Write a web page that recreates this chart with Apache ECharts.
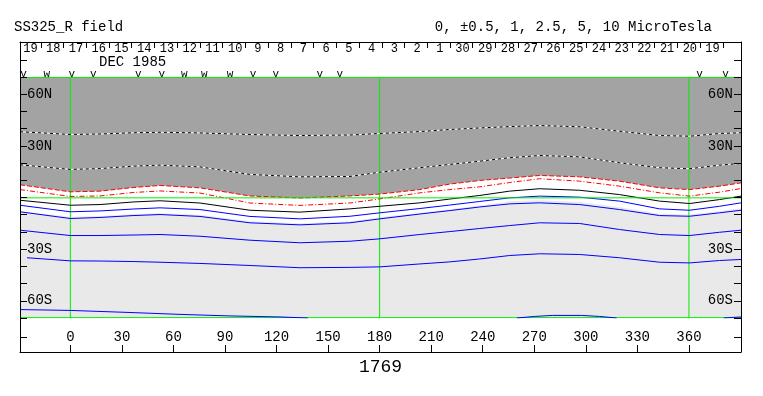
<!DOCTYPE html>
<html>
<head>
<meta charset="utf-8">
<script src="https://cdn.jsdelivr.net/npm/echarts@6/dist/echarts.min.js"></script>
<style>html,body{margin:0;padding:0;background:#fff}#c{width:763px;height:396px}</style>
</head>
<body>
<div id="c"></div>
<script>
// ---------- data ----------
const lonSamples = [-29.3, 0, 17.3, 36.5, 52.2, 75.4, 104.5, 133.6, 162.7, 180.1, 203.4, 220.8, 238.3, 255.7, 273.1, 296.4, 319.6, 342.9, 360.4, 377.8, 390.3];
const lonBlue4   = [-25.2, 0, 17.3, 36.5, 52.2, 75.4, 104.5, 133.6, 162.7, 180.1, 203.4, 220.8, 238.3, 255.7, 273.1, 296.4, 319.6, 342.9, 360.4, 377.8, 390.3];

const dotted1    = [38.2, 36.6, 36.9, 37.6, 37.9, 37.5, 36.6, 36.0, 36.3, 37.2, 38.3, 39.5, 40.4, 41.2, 41.8, 41.1, 38.5, 36.0, 35.6, 37.2, 37.6];
const dotted2    = [19.0, 16.3, 16.8, 18.2, 18.8, 17.8, 13.4, 12.0, 12.2, 14.7, 17.3, 19.2, 21.1, 23.1, 24.4, 23.6, 20.2, 17.3, 16.7, 18.8, 19.8];
const redDash    = [7.4, 3.3, 3.7, 5.8, 7.0, 5.6, 0.9, -0.3, 0.9, 2.0, 4.6, 7.8, 9.9, 11.3, 12.8, 12.0, 9.5, 5.6, 4.6, 6.6, 8.5];
const redDashDot = [4.6, 0.6, 0.9, 2.9, 3.8, 2.6, -3.2, -4.6, -3.2, -0.8, 2.7, 4.6, 6.2, 8.7, 10.9, 9.5, 6.6, 2.7, 0.8, 3.1, 5.2];
const black0     = [-1.6, -4.5, -4.1, -2.6, -1.9, -3.2, -7.4, -8.5, -6.6, -5.1, -3.1, -0.9, 1.2, 3.7, 5.1, 4.2, 1.7, -2.1, -3.5, -1.2, 0.8];
const blue1      = [-4.5, -8.3, -7.8, -6.7, -6.0, -7.0, -11.0, -12.4, -10.9, -8.9, -6.4, -4.4, -2.3, -0.2, 0.8, 0.2, -2.1, -6.6, -7.4, -5.1, -3.1];
const blue2      = [-8.3, -12.2, -11.6, -10.5, -9.9, -11.0, -14.7, -15.9, -14.7, -12.4, -9.6, -7.6, -5.5, -3.7, -3.1, -4.1, -7.0, -10.5, -10.9, -8.9, -7.4];
const blue3      = [-19.0, -22.1, -22.1, -21.8, -21.5, -22.5, -24.8, -26.3, -25.4, -24.0, -21.5, -19.8, -18.0, -16.3, -14.7, -15.1, -18.6, -21.5, -22.1, -20.2, -19.0];
const blue4      = [-35.0, -36.8, -36.9, -37.2, -37.6, -38.3, -39.5, -40.8, -40.6, -40.3, -38.6, -37.4, -35.7, -33.7, -32.7, -33.1, -35.0, -37.6, -38.0, -36.6, -36.0];
const whiteLower = [-8.0, -11.2, -10.7, -9.6, -9.0, -10.0, -13.8, -15.0, -13.8, -11.5, -8.8, -6.8, -4.6, -2.2, -1.6, -2.6, -5.5, -9.4, -9.9, -7.8, -6.2];

const southLon   = [-29.3, 0, 34.7, 63.8, 92.9, 122, 138.2];
const southLat   = [-65.1, -65.6, -66.8, -67.9, -68.8, -69.4, -70];
const bumpLon    = [259.8, 270.2, 280.7, 297.6, 308, 317.9];
const bumpLat    = [-70, -69.1, -68.5, -68.5, -69.1, -70];
const edgeLon    = [380.2, 390.3];
const edgeLat    = [-70, -69.4];

const xTicks     = [0, 30, 60, 90, 120, 150, 180, 210, 240, 270, 300, 330, 360];
const latLabels  = [-60, -30, 30, 60];
const greenLons  = [0, 180, 360];
const greenLats  = [-69.8, 69.8];
const equatorLon = [-29.3, 180, 390.3];
const equatorLat = [-0.2, -0.2, -0.2];
const latRange   = [-70, 70];
const lonRange   = [-29.3, 390.3];

const dayLabels  = ['19','18','17','16','15','14','13','12','11','10','9','8','7','6','5','4','3','2','1','30','29','28','27','26','25','24','23','22','21','20','19'];
const dayLabelStart = -23.15, dayTickStart = -17.19, dayStep = 13.23;
const markLons   = [-27.3, -13.7, 0.8, 13.4, 39.5, 53.2, 66.3, 77.9, 92.9, 106.4, 119.6, 145.2, 156.8, 366.2, 381.3];
const markTypes  = ['v','w','v','v','v','v','w','w','w','v','v','v','v','v','v'];

// ---------- build ----------
const FONT = 'Liberation Mono';
const GREEN = '#00ee00';
const dayLabelLons = dayLabels.map((d, i) => +(dayLabelStart + i * dayStep).toFixed(3));
const dayTickLons = dayLabels.map((d, i) => +(dayTickStart + i * dayStep).toFixed(3));
const pairs = (xs, ys) => xs.map((x, i) => [x, ys[i]]);
const findIdx = (arr, v) => arr.findIndex(a => Math.abs(a - v) < 1e-3);

function lineSeries(name, lons, lats, color, type, z, extra) {
  return Object.assign({
    name, type: 'line', xAxisIndex: 0, yAxisIndex: 0,
    data: pairs(lons, lats), symbol: 'none', showSymbol: false, silent: true, z: z,
    lineStyle: { color: color, width: 1, type: type, opacity: 1 }
  }, extra || {});
}

const greenSeries = []
  .concat(greenLons.map(v => lineSeries('greenV_' + v, [v, v], latRange, GREEN, 'solid', 3)))
  .concat(greenLats.map((v, i) => lineSeries('greenH_' + i, lonRange, [v, v], GREEN, 'solid', 5)));

const chart = echarts.init(document.getElementById('c'), null, { renderer: 'canvas' });
chart.setOption({
  animation: false,
  backgroundColor: '#fff',
  title: [
    { text: 'SS325_R field', left: 14, top: 20, padding: 0,
      textStyle: { fontFamily: FONT, fontSize: 14, fontWeight: 'normal', color: '#000' } },
    { text: '0, ±0.5, 1, 2.5, 5, 10 MicroTesla', right: 51, top: 20, padding: 0,
      textStyle: { fontFamily: FONT, fontSize: 14, fontWeight: 'normal', color: '#000' } },
    { text: 'DEC 1985', left: 99, top: 55, padding: 0,
      textStyle: { fontFamily: FONT, fontSize: 14, fontWeight: 'normal', color: '#000' } }
  ],
  grid: [
    { left: 20, top: 77, width: 721, height: 241, show: true, backgroundColor: '#e9e9e9', borderWidth: 0 },
    { left: 20, top: 42, width: 721, height: 310, show: false }
  ],
  xAxis: [
    { gridIndex: 0, type: 'value', min: lonRange[0], max: lonRange[1], position: 'bottom', offset: 34,
      axisLine: { show: false, onZero: false },
      axisTick: { show: true, inside: true, length: 7, customValues: xTicks, lineStyle: { color: '#000' } },
      axisLabel: { show: true, inside: true, margin: 8, customValues: xTicks, color: '#000', fontFamily: FONT, fontSize: 14 },
      splitLine: { show: false },
      name: '1769', nameLocation: 'middle', nameGap: 6,
      nameTextStyle: { fontFamily: FONT, fontSize: 18, color: '#000' } },
    { gridIndex: 0, type: 'value', min: lonRange[0], max: lonRange[1], position: 'top', offset: 35,
      axisLine: { show: false, onZero: false },
      axisTick: { show: true, inside: true, length: 6, customValues: dayTickLons, lineStyle: { color: '#000' } },
      axisLabel: { show: true, inside: true, margin: 1, customValues: dayLabelLons, color: '#000', fontFamily: FONT, fontSize: 12,
        formatter: v => { const i = findIdx(dayLabelLons, v); return i >= 0 ? dayLabels[i] : ''; } },
      splitLine: { show: false } },
    { gridIndex: 0, type: 'value', min: lonRange[0], max: lonRange[1], position: 'top', offset: 0,
      axisLine: { show: false, onZero: false }, axisTick: { show: false },
      axisLabel: { show: true, margin: 3, verticalAlign: 'middle', customValues: markLons, color: '#000', fontFamily: FONT, fontSize: 11,
        formatter: v => { const i = findIdx(markLons, v); return i >= 0 ? markTypes[i] : ''; } },
      splitLine: { show: false } },
    { gridIndex: 1, type: 'value', min: 0, max: 1, position: 'bottom',
      axisLine: { show: true, onZero: false, lineStyle: { color: '#000' } },
      axisTick: { show: false }, axisLabel: { show: false }, splitLine: { show: false } },
    { gridIndex: 1, type: 'value', min: 0, max: 1, position: 'top',
      axisLine: { show: true, onZero: false, lineStyle: { color: '#000' } },
      axisTick: { show: false }, axisLabel: { show: false }, splitLine: { show: false } }
  ],
  yAxis: [
    { gridIndex: 0, type: 'value', min: latRange[0], max: latRange[1], interval: 10, position: 'left', z: 10,
      axisLine: { show: false, onZero: false },
      axisTick: { show: true, inside: true, length: 7, lineStyle: { color: '#000' } },
      axisLabel: { show: true, inside: true, margin: 7, customValues: latLabels, color: '#000', fontFamily: FONT, fontSize: 14,
        formatter: v => v > 0 ? v + 'N' : (-v) + 'S' },
      splitLine: { show: false } },
    { gridIndex: 0, type: 'value', min: latRange[0], max: latRange[1], interval: 10, position: 'right', z: 10,
      axisLine: { show: false, onZero: false },
      axisTick: { show: true, inside: true, length: 7, lineStyle: { color: '#000' } },
      axisLabel: { show: true, inside: true, margin: 8, customValues: latLabels, color: '#000', fontFamily: FONT, fontSize: 14,
        formatter: v => v > 0 ? v + 'N' : (-v) + 'S' },
      splitLine: { show: false } },
    { gridIndex: 1, type: 'value', min: 0, max: 310, inverse: true, position: 'left', z: 10,
      axisLine: { show: true, onZero: false, lineStyle: { color: '#000' } },
      axisTick: { show: true, inside: true, length: 7, customValues: [18, 295], lineStyle: { color: '#000' } },
      axisLabel: { show: false }, splitLine: { show: false } },
    { gridIndex: 1, type: 'value', min: 0, max: 310, inverse: true, position: 'right', z: 10,
      axisLine: { show: true, onZero: false, lineStyle: { color: '#000' } },
      axisTick: { show: true, inside: true, length: 7, customValues: [18, 35, 295], lineStyle: { color: '#000' } },
      axisLabel: { show: false }, splitLine: { show: false } }
  ],
  series: [
    // white band (from its lower edge up) and dark grey region (above the top red contour)
    lineSeries('whiteBand', lonSamples, whiteLower, 'rgba(0,0,0,0)', 'solid', 1,
      { areaStyle: { origin: 'end', color: '#ffffff', opacity: 1 }, lineStyle: { width: 0 } }),
    lineSeries('greyRegion', lonSamples, redDash, 'rgba(0,0,0,0)', 'solid', 1,
      { areaStyle: { origin: 'end', color: '#a3a3a3', opacity: 1 }, lineStyle: { width: 0 } }),
    lineSeries('dotted1w', lonSamples, dotted1, '#ffffff', 'solid', 4),
    lineSeries('dotted1', lonSamples, dotted1, '#000000', [3, 3], 4),
    lineSeries('dotted2w', lonSamples, dotted2, '#ffffff', 'solid', 4),
    lineSeries('dotted2', lonSamples, dotted2, '#000000', [3, 3], 4),
    lineSeries('redDash', lonSamples, redDash, '#ff0000', [5, 2], 4),
    lineSeries('redDashDot', lonSamples, redDashDot, '#ff0000', [5, 2, 1, 2], 4),
    lineSeries('black0', lonSamples, black0, '#000000', 'solid', 4),
    lineSeries('blue1', lonSamples, blue1, '#0000ff', 'solid', 4),
    lineSeries('blue2', lonSamples, blue2, '#0000ff', 'solid', 4),
    lineSeries('blue3', lonSamples, blue3, '#0000ff', 'solid', 4),
    lineSeries('blue4', lonBlue4, blue4, '#0000ff', 'solid', 4)
  ].concat(greenSeries).concat([
    lineSeries('equator', equatorLon, equatorLat, GREEN, 'solid', 7),
    lineSeries('south', southLon, southLat, '#0000ff', 'solid', 6),
    lineSeries('bump', bumpLon, bumpLat, '#0000ff', 'solid', 6),
    lineSeries('edge', edgeLon, edgeLat, '#0000ff', 'solid', 6)
  ])
});
</script>
</body>
</html>
